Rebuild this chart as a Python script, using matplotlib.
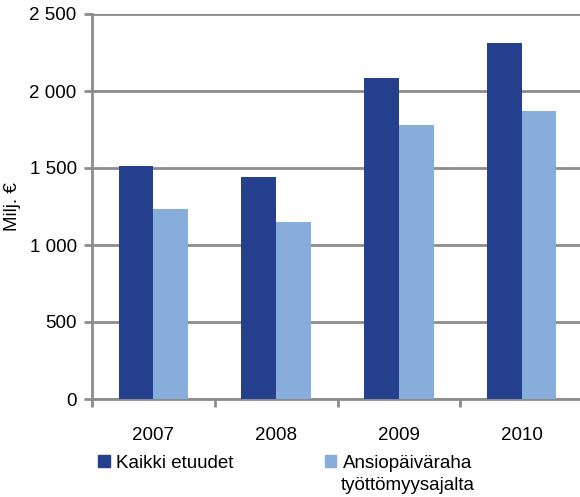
import numpy as np
import matplotlib
matplotlib.use("Agg")
matplotlib.rcParams['font.family'] = ['Liberation Sans', 'DejaVu Sans']
import matplotlib.pyplot as plt
from matplotlib.patches import Patch

years = ["2007", "2008", "2009", "2010"]
kaikki = [1515, 1442, 2082, 2310]
ansio = [1232, 1149, 1779, 1868]
series_names = ["Kaikki etuudet", "Ansiopäiväraha"]
ansio_line2 = "työttömyysajalta"
colors = ["#25418d", "#87aedb"]
grid_col = "#8c8c8e"
fs = 13.5

fig = plt.figure(figsize=(5.8, 4.97), dpi=100)
W, H = 580, 497
# axes box in pixels: left 92, right ~583 (cropped), top 14, bottom 399
ax = fig.add_axes([92 / W, 1 - 399 / H, 491 / W, 385 / H])

x = np.arange(len(years))
bw = 0.283
ax.bar(x - bw / 2, kaikki, bw, color=colors[0], zorder=3)
ax.bar(x + bw / 2, ansio, bw, color=colors[1], zorder=3)

ax.set_xlim(-0.5, len(years) - 0.5)
ax.set_ylim(0, 2500)
ax.set_yticks(np.arange(0, 2501, 500))
ax.set_yticklabels([f"{v:,}".replace(",", " ") for v in range(0, 2501, 500)])
ax.yaxis.grid(True, color=grid_col, linewidth=2, zorder=0)
ax.set_axisbelow(True)

ax.set_xticks(x)
ax.set_xticklabels(years)
ax.set_xticks(np.arange(-0.5, len(years)), minor=True)
ax.tick_params(axis='x', which='major', length=0, pad=20, labelsize=fs)
ax.tick_params(axis='x', which='minor', length=6, width=2, color=grid_col)
ax.tick_params(axis='y', length=6, width=2, color=grid_col, pad=5, labelsize=fs)

for s in ["top", "right"]:
    ax.spines[s].set_visible(False)
for s in ["left", "bottom"]:
    ax.spines[s].set_color(grid_col)
    ax.spines[s].set_linewidth(2)

ax.set_ylabel("Milj. €", fontsize=fs, labelpad=6)

handles = [Patch(color=c) for c in colors]
fig.legend(handles, series_names, loc="upper left",
           bbox_to_anchor=(98 / W, 1 - 455 / H), ncol=2, frameon=False,
           fontsize=fs, handlelength=0.62, handleheight=0.62,
           handletextpad=0.35, columnspacing=4.85, borderaxespad=0,
           borderpad=0)
fig.text(341 / W, 1 - 486 / H, ansio_line2, fontsize=fs, va="center", ha="left")

fig.savefig("out.png", dpi=100)
